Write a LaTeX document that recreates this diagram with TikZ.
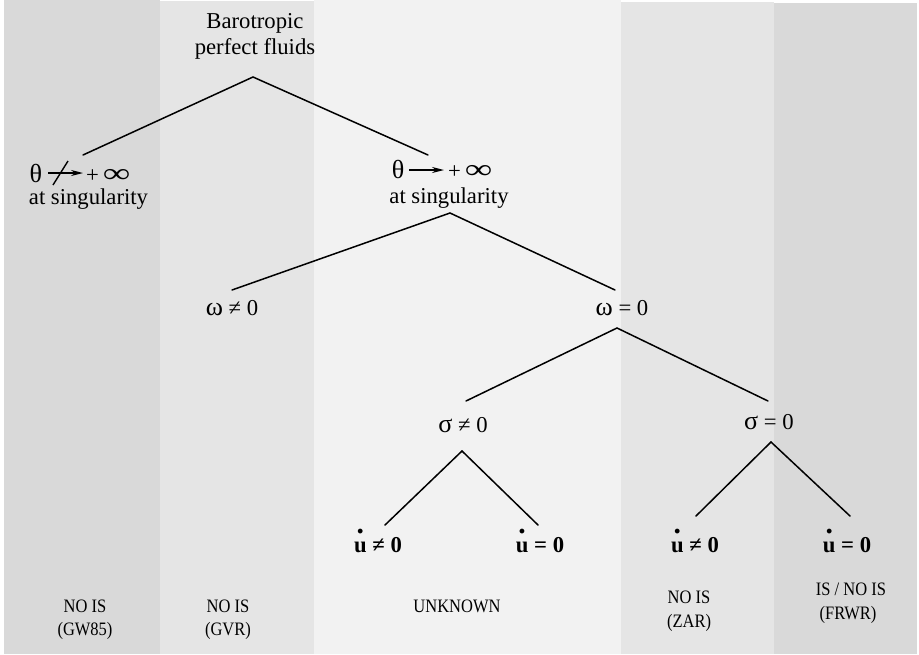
\documentclass[tikz,border=0pt]{standalone}
\usepackage{fontspec}
\setmainfont{Liberation Serif}
\usepackage{graphicx}
\usetikzlibrary{arrows.meta}
\definecolor{bandA}{HTML}{D9D9D9}
\definecolor{bandB}{HTML}{E5E5E5}
\definecolor{bandC}{HTML}{F2F2F2}
\newcommand\udot{\leavevmode\hbox{\ooalign{\textbf{u}\cr\hidewidth\raisebox{0.8em}{\scalebox{1.3}{\textbf{.}}}\hidewidth\cr}}}
\newcommand\infsym{\scalebox{1.7}[1.2]{∞}}
\newcommand\gk[1]{\scalebox{1.15}{#1}}
\newcommand\ft[1]{\scalebox{1}[1.15]{#1}}
\tikzset{
  lbl/.style={inner sep=0pt, font=\fontsize{22.7}{26}\selectfont, anchor=base},
  foot/.style={inner sep=0pt, font=\fontsize{16.5}{23}\selectfont, anchor=base},
  branch/.style={line width=1.5pt, line cap=round},
  limarrow/.style={line width=1.4pt, -{Stealth[length=12pt,width=6pt]}},
  band/.style={draw=none}
}
\begin{document}
\begin{tikzpicture}[x=1pt,y=-1pt]
\useasboundingbox (0,0) rectangle (919,654);
% bands
\fill[bandA] (4,0) rectangle (160,654);
\fill[bandB] (160,1) rectangle (314,654);
\fill[bandC] (314,0) rectangle (621,654);
\fill[bandB] (621,2) rectangle (774,654);
\fill[bandA] (774,3) rectangle (917,654);

% root
\node[lbl] (root1) at (255,28) {Barotropic};
\node[lbl] (root2) at (255,54) {perfect fluids};
\coordinate (rootA) at (253,77);
\coordinate (leftE) at (83,155);
\coordinate (rightE) at (428,155);
\draw[branch] (rootA) -- (leftE);
\draw[branch] (rootA) -- (rightE);

% left: theta not -> +inf
\node[lbl] (thL) at (36,182) {\gk{θ}};
\coordinate (arLs) at (48,173);
\coordinate (arLe) at (83,173);
\draw[limarrow] (arLs) -- (arLe);
\coordinate (slA) at (53,185);
\coordinate (slB) at (68,161);
\draw[line width=1.4pt] (slA) -- (slB);
\node[lbl, anchor=base west] (infL) at (86,182) {+\,\infsym};
\node[lbl] (singL) at (88.5,204) {at singularity};

% right: theta -> +inf
\node[lbl] (thR) at (398,178) {\gk{θ}};
\coordinate (arRs) at (409,170);
\coordinate (arRe) at (444,170);
\draw[limarrow] (arRs) -- (arRe);
\node[lbl, anchor=base west] (infR) at (448,178) {+\,\infsym};
\node[lbl] (singR) at (449,203) {at singularity};

\coordinate (singA) at (450,213);
\coordinate (omNe) at (232,290);
\coordinate (omEe) at (615,290);
\draw[branch] (singA) -- (omNe);
\draw[branch] (singA) -- (omEe);

\node[lbl] (omN) at (232,315) {\gk{ω} ≠ 0};
\node[lbl] (omE) at (622,315) {\gk{ω} = 0};

\coordinate (omA) at (617,328);
\coordinate (sgNe) at (466,401);
\coordinate (sgEe) at (768,401);
\draw[branch] (omA) -- (sgNe);
\draw[branch] (omA) -- (sgEe);

\node[lbl] (sgN) at (463,432) {\gk{σ} ≠ 0};
\node[lbl] (sgE) at (769,429) {\gk{σ} = 0};

\coordinate (sgNA) at (462,451);
\coordinate (u1e) at (385,525);
\coordinate (u2e) at (538,525);
\draw[branch] (sgNA) -- (u1e);
\draw[branch] (sgNA) -- (u2e);

\coordinate (sgEA) at (771,442);
\coordinate (u3e) at (696,516);
\coordinate (u4e) at (850,516);
\draw[branch] (sgEA) -- (u3e);
\draw[branch] (sgEA) -- (u4e);

\node[lbl] (u1) at (378,552) {\textbf{\udot\ ≠ 0}};
\node[lbl] (u2) at (540,552) {\textbf{\udot\ = 0}};
\node[lbl] (u3) at (695,552) {\textbf{\udot\ ≠ 0}};
\node[lbl] (u4) at (847,552) {\textbf{\udot\ = 0}};

% footers
\node[foot] (f1a) at (85,612) {\ft{NO IS}};
\node[foot] (f1b) at (85,635) {\ft{(GW85)}};
\node[foot] (f2a) at (228,612) {\ft{NO IS}};
\node[foot] (f2b) at (228,635) {\ft{(GVR)}};
\node[foot] (f3a) at (457,612) {\ft{UNKNOWN}};
\node[foot] (f4a) at (689,603) {\ft{NO IS}};
\node[foot] (f4b) at (689,627) {\ft{(ZAR)}};
\node[foot] (f5a) at (851,595) {\ft{IS / NO IS}};
\node[foot] (f5b) at (848,619) {\ft{(FRWR)}};
\end{tikzpicture}
\end{document}
